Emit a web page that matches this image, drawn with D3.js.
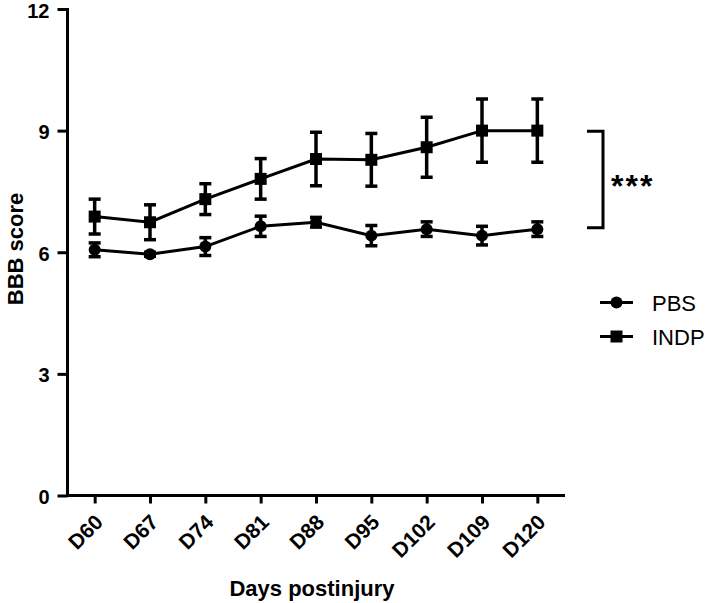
<!DOCTYPE html>
<html><head><meta charset="utf-8">
<script src="https://cdn.jsdelivr.net/npm/d3@7"></script>
<style>body{margin:0;background:#fff}svg{display:block;font-family:"Liberation Sans",Arial,sans-serif}</style>
</head><body><svg id="c" width="709" height="603"></svg>
<script>
const days = ["D60","D67","D74","D81","D88","D95","D102","D109","D120"];
const pbsMean = [6.06,5.95,6.14,6.64,6.74,6.41,6.57,6.41,6.57];
const pbsErr  = [0.17,0.05,0.22,0.25,0.12,0.25,0.18,0.23,0.18];
const indpMean = [6.88,6.74,7.31,7.81,8.30,8.28,8.59,9.00,9.00];
const indpErr  = [0.43,0.43,0.38,0.50,0.66,0.65,0.74,0.78,0.78];
const yTicks = [0,3,6,9,12];

const svg = d3.select("#c");
const x = d3.scalePoint().domain(days).range([67,565]).padding(0.5);
const y = d3.scaleLinear().domain([0,12]).range([495.5,9]);

// axes
const gx = svg.append("g").attr("transform","translate(0,495.5)")
  .call(d3.axisBottom(x).tickSize(8).tickSizeOuter(0));
gx.select(".domain").attr("stroke","#000").attr("stroke-width",3).attr("d","M66,0H565");
gx.selectAll(".tick line").attr("stroke","#000").attr("stroke-width",3);
gx.selectAll(".tick text").attr("font-size",21).attr("font-weight","bold").attr("fill","#000")
  .attr("text-anchor","end").attr("dy",0).attr("y",0)
  .attr("transform","translate(9,28) rotate(-45)");

const gy = svg.append("g").attr("transform","translate(67.5,0)")
  .call(d3.axisLeft(y).tickValues(yTicks).tickSize(10).tickSizeOuter(0));
gy.select(".domain").attr("stroke","#000").attr("stroke-width",3).attr("d","M0,8V497");
gy.selectAll(".tick line").attr("stroke","#000").attr("stroke-width",3);
gy.selectAll(".tick text").attr("font-size",20).attr("font-weight","bold").attr("fill","#000")
  .attr("x",-18).attr("dy","0.4em");

svg.append("text").attr("transform","translate(23,249) rotate(-90)").attr("text-anchor","middle")
  .attr("font-size",22).attr("font-weight","bold").text("BBB score");
svg.append("text").attr("x",312).attr("y",596).attr("text-anchor","middle")
  .attr("font-size",22).attr("font-weight","bold").text("Days postinjury");

function drawSeries(mean, err, shape){
  const data = days.map((d,i)=>({d, m:mean[i], e:err[i]}));
  const g = svg.append("g");
  g.append("path").datum(data).attr("fill","none").attr("stroke","#000").attr("stroke-width",3)
    .attr("d", d3.line().x(p=>x(p.d)).y(p=>y(p.m)));
  const eb = g.selectAll(".eb").data(data).enter().append("g");
  eb.append("line").attr("x1",p=>x(p.d)).attr("x2",p=>x(p.d)).attr("y1",p=>y(p.m-p.e)).attr("y2",p=>y(p.m+p.e))
    .attr("stroke","#000").attr("stroke-width",3.5);
  [1,-1].forEach(s=>{
    eb.append("line").attr("x1",p=>x(p.d)-6).attr("x2",p=>x(p.d)+6)
      .attr("y1",p=>y(p.m+s*p.e)).attr("y2",p=>y(p.m+s*p.e)).attr("stroke","#000").attr("stroke-width",3.5);
  });
  if(shape==="circle"){
    g.selectAll(".mk").data(data).enter().append("circle").attr("cx",p=>x(p.d)).attr("cy",p=>y(p.m)).attr("r",6);
  } else {
    g.selectAll(".mk").data(data).enter().append("rect").attr("x",p=>x(p.d)-6).attr("y",p=>y(p.m)-6)
      .attr("width",12).attr("height",12);
  }
}
drawSeries(pbsMean, pbsErr, "circle");
drawSeries(indpMean, indpErr, "square");

// significance bracket
const yTop = y(indpMean[indpMean.length-1]), yBot = y(pbsMean[pbsMean.length-1]);
svg.append("path").attr("fill","none").attr("stroke","#000").attr("stroke-width",3)
  .attr("d",`M587,${yTop+0.5}H603V${yBot-1.5}H587`);
svg.append("text").attr("x",611).attr("y",(yTop+yBot)/2+17).attr("font-size",32).attr("font-weight","bold")
  .attr("letter-spacing",2).text("***");

// legend
const legend = [{name:"PBS",shape:"circle",yy:302.5},{name:"INDP",shape:"square",yy:336.5}];
legend.forEach(l=>{
  svg.append("line").attr("x1",600).attr("x2",633).attr("y1",l.yy).attr("y2",l.yy).attr("stroke","#000").attr("stroke-width",3);
  if(l.shape==="circle") svg.append("circle").attr("cx",616.5).attr("cy",l.yy).attr("r",6);
  else svg.append("rect").attr("x",610.5).attr("y",l.yy-6).attr("width",12).attr("height",12);
  svg.append("text").attr("x",652).attr("y",l.yy+8).attr("font-size",22).text(l.name);
});
</script></body></html>
